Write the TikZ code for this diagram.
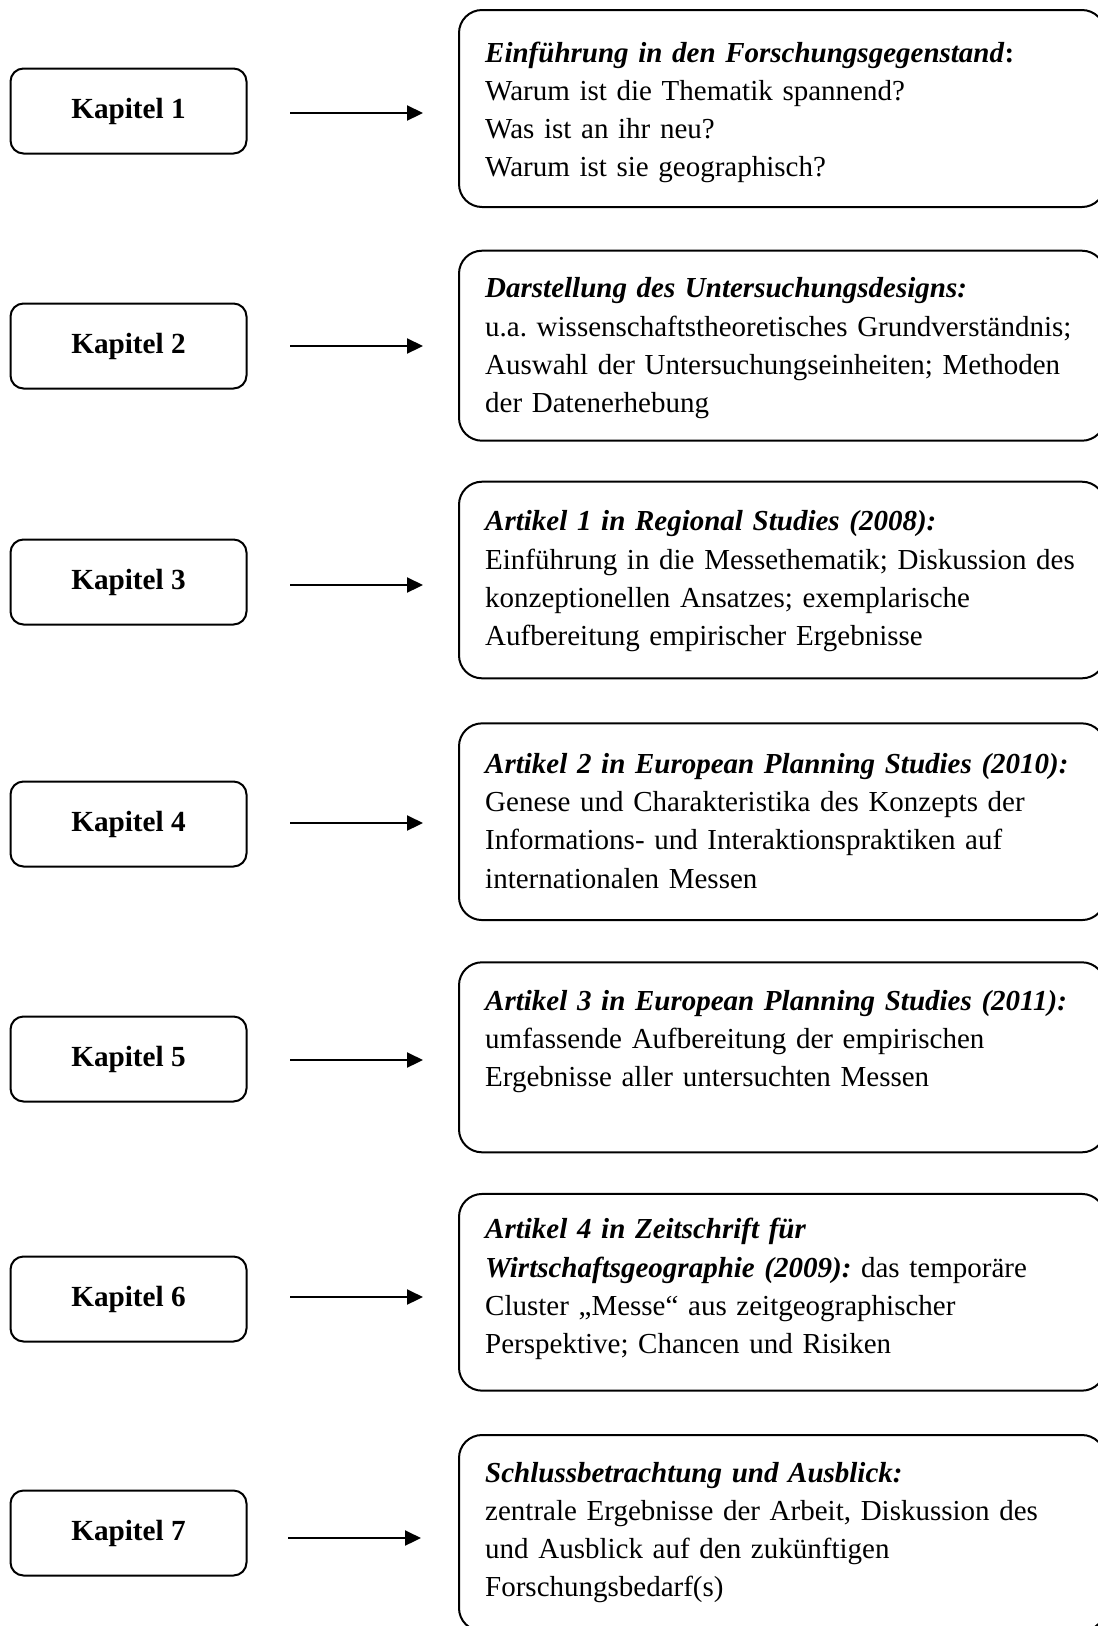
\documentclass[tikz,border=0pt]{standalone}
\usepackage{fontspec}
\setmainfont{Liberation Serif}
\usetikzlibrary{arrows.meta,calc}
\newcommand\arttitle[1]{\textbf{\textit{#1}}}
\frenchspacing
\begin{document}
\begin{tikzpicture}[x=1pt,y=-1pt,
  kap/.style={draw=black,line width=2pt,rounded corners=13pt,minimum width=236pt,minimum height=85pt,inner sep=0pt,font=\fontsize{29.2}{36}\selectfont\bfseries},
  artbox/.style={draw=black,line width=2pt,rounded corners=23pt,minimum width=646pt,inner sep=0pt},
  arttext/.style={anchor=base west,inner sep=0pt,text width=640pt,align=left,font=\fontsize{29}{38.3}\selectfont\frenchspacing},
  link/.style={line width=2.2pt,-{Triangle[length=16pt,width=15pt]}}]
\useasboundingbox (0,0) rectangle (1098,1626);
\clip (0,0) rectangle (1098,1626);

% left boxes
\node[kap] (k1) at (128.5,111) {Kapitel 1};
\node[kap] (k2) at (128.5,346) {Kapitel 2};
\node[kap] (k3) at (128.5,582) {Kapitel 3};
\node[kap] (k4) at (128.5,824) {Kapitel 4};
\node[kap] (k5) at (128.5,1059) {Kapitel 5};
\node[kap] (k6) at (128.5,1299) {Kapitel 6};
\node[kap] (k7) at (128.5,1533) {Kapitel 7};

% right boxes
\node[artbox,minimum height=197pt] (r1) at (782,108.5) {};
\node[artbox,minimum height=190pt] (r2) at (782,345.7) {};
\node[artbox,minimum height=196.6pt] (r3) at (782,580) {};
\node[artbox,minimum height=196.7pt] (r4) at (782,821.7) {};
\node[artbox,minimum height=190pt] (r5) at (782,1057.3) {};
\node[artbox,minimum height=196.7pt] (r6) at (782,1292.3) {};
\node[artbox,minimum height=196pt] (r7) at (782,1533) {};

% texts
\node[arttext] (t1) at ($(r1.north west)+(27,53)$) {\arttitle{Einführung in den Forschungsgegenstand}\textbf{:}\\
Warum ist die Thematik spannend?\\
Was ist an ihr neu?\\
Warum ist sie geographisch?};
\node[arttext] (t2) at ($(r2.north west)+(27,48)$) {\arttitle{Darstellung des Untersuchungsdesigns:}\\
u.a. wissenschaftstheoretisches Grundverständnis;\\
Auswahl der Untersuchungseinheiten; Methoden\\
der Datenerhebung};
\node[arttext] (t3) at ($(r3.north west)+(27,50)$) {\arttitle{Artikel 1 in Regional Studies (2008):}\\
Einführung in die Messethematik; Diskussion des\\
konzeptionellen Ansatzes; exemplarische\\
Aufbereitung empirischer Ergebnisse};
\node[arttext] (t4) at ($(r4.north west)+(27,51)$) {\arttitle{Artikel 2 in European Planning Studies (2010):}\\
Genese und Charakteristika des Konzepts der\\
Informations- und Interaktionspraktiken auf\\
internationalen Messen};
\node[arttext] (t5) at ($(r5.north west)+(27,49)$) {\arttitle{Artikel 3 in European Planning Studies (2011):}\\
umfassende Aufbereitung der empirischen\\
Ergebnisse aller untersuchten Messen};
\node[arttext] (t6) at ($(r6.north west)+(27,46)$) {\arttitle{Artikel 4 in Zeitschrift für}\\
\arttitle{Wirtschaftsgeographie (2009):} das temporäre\\
Cluster „Messe“ aus zeitgeographischer\\
Perspektive; Chancen und Risiken};
\node[arttext] (t7) at ($(r7.north west)+(27,48)$) {\arttitle{Schlussbetrachtung und Ausblick:}\\
zentrale Ergebnisse der Arbeit, Diskussion des\\
und Ausblick auf den zukünftigen\\
Forschungsbedarf(s)};

% arrows
\coordinate (a1s) at (290,113);  \coordinate (a1e) at (423,113);
\coordinate (a2s) at (290,346);  \coordinate (a2e) at (423,346);
\coordinate (a3s) at (290,585);  \coordinate (a3e) at (423,585);
\coordinate (a4s) at (290,823);  \coordinate (a4e) at (423,823);
\coordinate (a5s) at (290,1060); \coordinate (a5e) at (423,1060);
\coordinate (a6s) at (290,1297); \coordinate (a6e) at (423,1297);
\coordinate (a7s) at (288,1538); \coordinate (a7e) at (421,1538);
\foreach \i in {1,...,7} {\draw[link] (a\i s) -- (a\i e);}
\end{tikzpicture}
\end{document}
